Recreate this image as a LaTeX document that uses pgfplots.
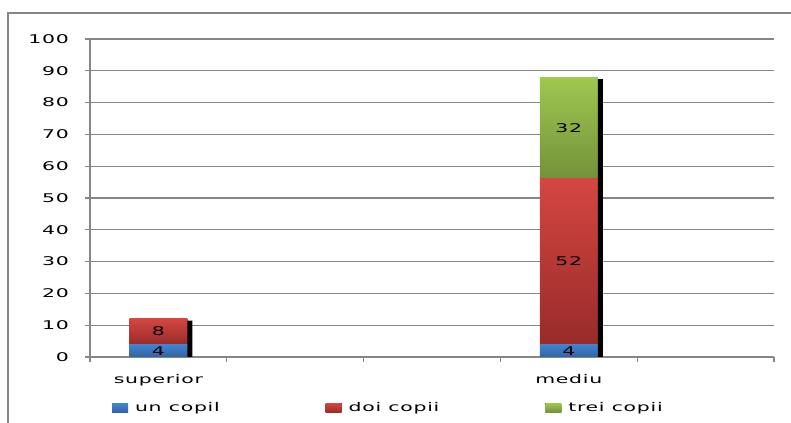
\documentclass[border=0pt]{standalone}
\usepackage{fontspec}
\setmainfont{DejaVu Sans}[FakeStretch=1.7, LetterSpace=6]
\usepackage{pgfplots}
\pgfplotsset{compat=1.18}
\definecolor{axgray}{RGB}{134,134,134}
\definecolor{blueT}{RGB}{66,132,210}
\definecolor{blueB}{RGB}{50,98,164}
\definecolor{redT}{RGB}{212,70,66}
\definecolor{redB}{RGB}{152,43,41}
\definecolor{greenT}{RGB}{158,200,80}
\definecolor{greenB}{RGB}{116,145,58}
\pgfplotsset{
  rectlegend/.style={legend image code/.code={\fill[##1] (0bp,-4.5bp) rectangle (16bp,4.5bp);}},
  samebox/.style={at={(90bp,66bp)}, anchor=south west,
    width=684bp, height=318bp, scale only axis,
    xmin=-0.5, xmax=4.5, ymin=0, ymax=100, enlargelimits=false},
  blueseg/.style={draw=none, top color=blueT, bottom color=blueB, rectlegend},
  redseg/.style={draw=none, top color=redT, bottom color=redB, rectlegend},
  greenseg/.style={draw=none, top color=greenT, bottom color=greenB, rectlegend},
}
\begin{document}
\fontsize{12bp}{14bp}\selectfont
\begin{tikzpicture}
\path[use as bounding box] (0bp,0bp) rectangle (791bp,423bp);
\draw[axgray, line width=1.5bp] (8bp,0bp) -- (8bp,410bp) -- (791bp,410bp);
% axis with frame, grid, ticks, legend and the "superior" stack
\begin{axis}[
    samebox,
    ybar stacked, bar width=58bp,
    axis x line*=bottom, axis y line*=left,
    axis line style={axgray, line width=1.2bp},
    ytick={0,10,...,100},
    ymajorgrids, grid style={axgray, line width=1.2bp},
    xtick={-0.5,0.5,...,4.5}, xticklabels={},
    extra x ticks={0,3}, extra x tick labels={superior,mediu},
    extra x tick style={major tick length=0pt, xticklabel style={yshift=-13bp}},
    tick align=outside, major tick length=5bp,
    tick style={axgray, line width=1.2bp},
    /pgf/number format/assume math mode=true,
    yticklabel style={xshift=-12bp},
    legend columns=3,
    legend style={draw=none, fill=none, at={(0.032,-0.16)}, anchor=west,
      inner sep=0pt,
      /tikz/every odd column/.append style={column sep=5bp},
      /tikz/every even column/.append style={column sep=104bp},
      /tikz/column 4/.append style={column sep=109bp}},
  ]
  \addplot[blueseg] coordinates {(0,4)};
  \addplot[redseg] coordinates {(0,8)};
  \addplot[greenseg] coordinates {(0,0)};
  \legend{un copil, doi copii, trei copii}
\end{axis}
% "mediu" stack
\begin{axis}[samebox, axis lines=none, ticks=none, ybar stacked, bar width=58bp]
  \addplot[blueseg] coordinates {(3,4)};
  \addplot[redseg] coordinates {(3,52)};
  \addplot[greenseg] coordinates {(3,32)};
\end{axis}
\begin{axis}[samebox, axis lines=none, ticks=none]
  % shadow to the right of each stack
  \addplot[ybar, bar width=5bp, bar shift=31.5bp, fill=black, draw=none]
    coordinates {(0,11.4) (3,87.4)};
  % value labels in the middle of each segment
  \addplot[draw=none, mark=none, nodes near coords, point meta=explicit symbolic,
    nodes near coords align=center]
    coordinates {(0,2)[4] (0,8)[8] (3,2)[4] (3,30)[52] (3,72)[32]};
\end{axis}
\end{tikzpicture}
\end{document}
